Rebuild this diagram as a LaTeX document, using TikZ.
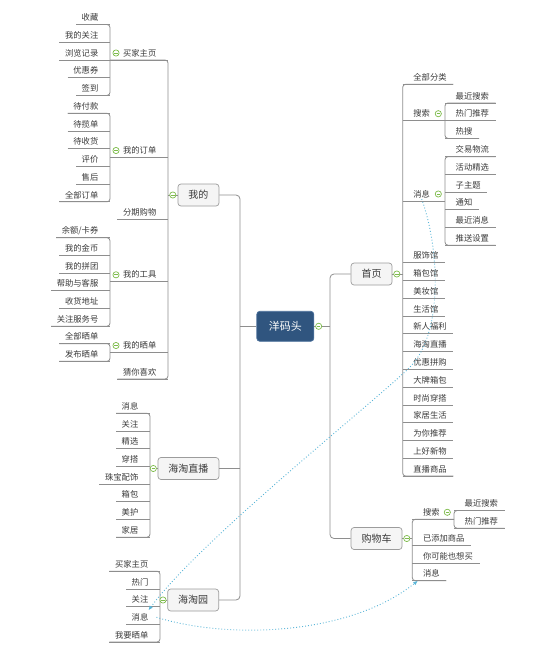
\documentclass[tikz,border=0pt]{standalone}
\usepackage{fontspec}
\setmainfont{Noto Sans CJK SC}
\usetikzlibrary{arrows.meta}
\definecolor{lg}{HTML}{8E8E8E}
\definecolor{txt}{HTML}{3A3A3A}
\definecolor{boxfill}{HTML}{F5F5F5}
\definecolor{boxdraw}{HTML}{9C9C9C}
\definecolor{cfill}{HTML}{30557F}
\definecolor{cdraw}{HTML}{4C719C}
\definecolor{mg}{HTML}{7DBB4A}
\definecolor{relc}{HTML}{5AB6D8}
\tikzset{
  conn/.style={draw=lg,line width=0.8pt},
  leaf/.style={font=\fontsize{8.3}{10}\selectfont,text=txt,inner sep=0pt},
  topbox/.style={draw=boxdraw,fill=boxfill,rounded corners=3pt,line width=0.7pt,
     font=\fontsize{10}{12}\selectfont,text=txt,inner xsep=10.5pt,inner ysep=0pt,minimum height=22pt},
  centerbox/.style={draw=cdraw,fill=cfill,rounded corners=3pt,line width=0.7pt,
     font=\fontsize{11}{13}\selectfont,text=white,inner xsep=12pt,inner ysep=0pt,minimum height=30pt},
  minus/.style={circle,draw=mg,fill=white,line width=0.7pt,minimum size=6.2pt,inner sep=0pt,
     path picture={\draw[mg,line width=0.8pt] ([xshift=-1.7pt]path picture bounding box.center) -- ([xshift=1.7pt]path picture bounding box.center);}},
  rel/.style={draw=relc,line width=0.9pt,dash pattern=on 0.9pt off 2.1pt,
     -{Latex[length=4.5pt,width=4pt]}}
}
\newcommand\mmLleaf[4]{%
  \node[leaf,anchor=east] (#1) at ({#2-11.5},{#3-7}) {#4};
  \coordinate (#1-s) at (#2,#3);
  \coordinate (#1-l) at ([xshift=-5.5pt]#1.west |- #1-s);
  \draw[conn] (#1-l) -- (#1-s);}
\newcommand\mmLmid[5]{%
  \node[leaf,anchor=east] (#1) at ({#2-11.5},{#3-7}) {#4};
  \coordinate (#1-s) at (#2,#3);
  \coordinate (#1-l) at (#5,#3);
  \draw[conn] (#1-l) -- (#1-s);
  \node[minus] (#1-m) at ({#5+6},{#3-7}) {};}
\newcommand\mmRleaf[4]{%
  \node[leaf,anchor=west] (#1) at ({#2+10.5},{#3-7}) {#4};
  \coordinate (#1-s) at (#2,#3);
  \coordinate (#1-l) at ([xshift=6.5pt]#1.east |- #1-s);
  \draw[conn] (#1-s) -- (#1-l);}
\newcommand\mmRmid[5]{%
  \node[leaf,anchor=west] (#1) at ({#2+10.5},{#3-7}) {#4};
  \coordinate (#1-s) at (#2,#3);
  \coordinate (#1-l) at (#5,#3);
  \draw[conn] (#1-s) -- (#1-l);
  \node[minus] (#1-m) at ({#5-6.7},{#3-7}) {};}
\newcommand\mmspine[2]{\draw[conn,rounded corners=3pt] (#1-l) -- (#1-s) -- (#2-s) -- (#2-l);}
\begin{document}
\begin{tikzpicture}[x=1pt,y=-1pt]
\useasboundingbox (0,0) rectangle (554,651);
\fill[white] (0,0) rectangle (554,651);

% ---------- central and main boxes ----------
\node[centerbox] (root) at (285.3,326.3) {洋码头};
\node[topbox,anchor=east] (wode) at (219.3,195) {我的};
\node[topbox,anchor=east] (htzb) at (219.3,468.5) {海淘直播};
\node[topbox,anchor=east] (hty) at (219,600) {海淘园};
\node[topbox,anchor=west] (shouye) at (350.7,274) {首页};
\node[topbox,anchor=west] (gwc) at (350.7,538.5) {购物车};
\coordinate (lsp) at (240,326.3);
\coordinate (rsp) at (330,326.3);

\draw[conn,rounded corners=4pt] (wode.east) -- (wode.east -| lsp) -- (hty.east -| lsp) -- (hty.east);
\draw[conn] (htzb.east) -- (htzb.east -| lsp);
\draw[conn] (root.west) -- (lsp);
\draw[conn,rounded corners=4pt] (shouye.west) -- (shouye.west -| rsp) -- (gwc.west -| rsp) -- (gwc.west);
\draw[conn] (root.east) -- (rsp);

% ---------- 我的 ----------
\mmLmid{mjzy}{168}{60}{买家主页}{110}
\mmLleaf{sc}{110}{24.5}{收藏}
\mmLleaf{wdgz}{110}{42.2}{我的关注}
\mmLleaf{lljl}{110}{60}{浏览记录}
\mmLleaf{yhq}{110}{77.7}{优惠券}
\mmLleaf{qd}{110}{95.4}{签到}
\mmspine{sc}{qd}
\mmLmid{wddd}{168}{157.5}{我的订单}{110}
\mmLleaf{dfk}{110}{113.3}{待付款}
\mmLleaf{dld}{110}{131}{待揽单}
\mmLleaf{dsh}{110}{148.7}{待收货}
\mmLleaf{pj}{110}{166.4}{评价}
\mmLleaf{shh}{110}{184.1}{售后}
\mmLleaf{qbdd}{110}{201.8}{全部订单}
\mmspine{dfk}{qbdd}
\mmLleaf{fqgw}{168}{219}{分期购物}
\mmLmid{wdgj}{168}{281.8}{我的工具}{110}
\mmLleaf{yekq}{110}{237.7}{余额/卡券}
\mmLleaf{wdjb}{110}{255.4}{我的金币}
\mmLleaf{wdpt}{110}{273.1}{我的拼团}
\mmLleaf{bzykf}{110}{290.8}{帮助与客服}
\mmLleaf{shdz}{110}{308.5}{收货地址}
\mmLleaf{gzfwh}{110}{326.2}{关注服务号}
\mmspine{yekq}{gzfwh}
\mmLmid{wdsd}{168}{352.5}{我的晒单}{110}
\mmLleaf{qbsd}{110}{343.6}{全部晒单}
\mmLleaf{fbsd}{110}{361.3}{发布晒单}
\mmspine{qbsd}{fbsd}
\mmLleaf{cnxh}{168}{379}{猜你喜欢}
\mmspine{mjzy}{cnxh}
\draw[conn] (wode.west) -- (wode.west -| mjzy-s);
\node[minus] (wode-m) at ([xshift=-4.8pt]wode.west) {};

% ---------- 海淘直播 ----------
\mmLleaf{xx1}{150}{413.3}{消息}
\mmLleaf{gz1}{150}{431}{关注}
\mmLleaf{jx}{150}{448.7}{精选}
\mmLleaf{cd}{150}{466.4}{穿搭}
\mmLleaf{zbps}{150}{484.1}{珠宝配饰}
\mmLleaf{xb}{150}{501.8}{箱包}
\mmLleaf{mh}{150}{519.5}{美护}
\mmLleaf{jj}{150}{537.2}{家居}
\mmspine{xx1}{jj}
\draw[conn] (htzb.west) -- (htzb.west -| xx1-s);
\node[minus] (htzb-m) at ([xshift=-4.3pt]htzb.west) {};

% ---------- 海淘园 ----------
\mmLleaf{mjzy2}{160}{571.2}{买家主页}
\mmLleaf{rm}{160}{588.9}{热门}
\mmLleaf{gz2}{160}{606.6}{关注}
\mmLleaf{xx2}{160}{624.3}{消息}
\mmLleaf{wysd}{160}{642}{我要晒单}
\mmspine{mjzy2}{wysd}
\draw[conn] (hty.west) -- (hty.west -| xx2-s);
\node[minus] (hty-m) at ([xshift=-4.3pt]hty.west) {};

% ---------- 首页 ----------
\mmRleaf{qbfl}{402.7}{84.3}{全部分类}
\mmRmid{ss1}{402.7}{120.7}{搜索}{445}
\mmRleaf{zjss1}{445}{102.9}{最近搜索}
\mmRleaf{rmtj1}{445}{120.7}{热门推荐}
\mmRleaf{rs}{445}{138.4}{热搜}
\mmspine{zjss1}{rs}
\mmRmid{xx3}{402.7}{201}{消息}{445}
\mmRleaf{jywl}{445}{156.7}{交易物流}
\mmRleaf{hdjx}{445}{174.4}{活动精选}
\mmRleaf{zzt}{445}{192.1}{子主题}
\mmRleaf{tz}{445}{209.8}{通知}
\mmRleaf{zjxx}{445}{227.5}{最近消息}
\mmRleaf{tssz}{445}{245.2}{推送设置}
\mmspine{jywl}{tssz}
\mmRleaf{fsg}{402.7}{262.7}{服饰馆}
\mmRleaf{xbg}{402.7}{280.5}{箱包馆}
\mmRleaf{mzg}{402.7}{298.3}{美妆馆}
\mmRleaf{shg}{402.7}{316.0}{生活馆}
\mmRleaf{xrfl}{402.7}{333.8}{新人福利}
\mmRleaf{htzb2}{402.7}{351.6}{海淘直播}
\mmRleaf{yhpg}{402.7}{369.4}{优惠拼购}
\mmRleaf{dpxb}{402.7}{387.2}{大牌箱包}
\mmRleaf{sscd}{402.7}{404.9}{时尚穿搭}
\mmRleaf{jjsh}{402.7}{422.7}{家居生活}
\mmRleaf{wntj}{402.7}{440.5}{为你推荐}
\mmRleaf{shxw}{402.7}{458.3}{上好新物}
\mmRleaf{zbsp}{402.7}{476.1}{直播商品}
\mmspine{qbfl}{zbsp}
\draw[conn] (shouye.east) -- (shouye.east -| qbfl-s);
\node[minus] (shouye-m) at ([xshift=4.4pt]shouye.east) {};

% ---------- 购物车 ----------
\mmRmid{ss2}{412.3}{519.3}{搜索}{454}
\mmRleaf{zjss2}{454}{510.5}{最近搜索}
\mmRleaf{rmtj2}{454}{528.2}{热门推荐}
\mmspine{zjss2}{rmtj2}
\mmRleaf{ytj}{412.3}{545}{已添加商品}
\mmRleaf{nkn}{412.3}{563}{你可能也想买}
\mmRleaf{xx4}{412.3}{580.7}{消息}
\mmspine{ss2}{xx4}
\draw[conn] (gwc.east) -- (gwc.east -| ss2-s);
\node[minus] (gwc-m) at ([xshift=4.4pt]gwc.east) {};

\node[minus] (root-m) at ([xshift=4.5pt]root.east) {};

% ---------- relationships ----------
\coordinate (r1a) at (440,250);
\coordinate (r1b) at (443,334);
\coordinate (r1m) at (410,367);
\coordinate (r1c) at (377,400);
\coordinate (r1d) at (200,540);
\draw[rel] ([yshift=-1pt]xx3.south) .. controls (r1a) and (r1b) .. (r1m)
   .. controls (r1c) and (r1d) .. ([yshift=3pt]xx2.north east);
\coordinate (r2a) at (230,640);
\coordinate (r2b) at (350,635);
\draw[rel] ([xshift=8pt]xx2.east) .. controls (r2a) and (r2b) .. ([xshift=-5pt,yshift=-3pt]xx4.south west);
\end{tikzpicture}
\end{document}
